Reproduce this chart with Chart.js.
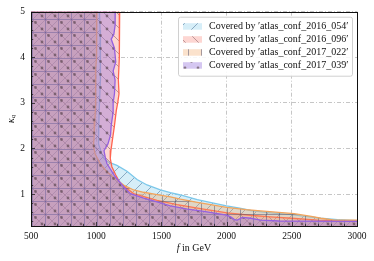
<!DOCTYPE html>
<html>
<head>
<meta charset="utf-8">
<script src="https://cdn.jsdelivr.net/npm/chart.js@4.4.1/dist/chart.umd.min.js"></script>
<style>
  html, body { margin: 0; padding: 0; background: #fff; }
</style>
</head>
<body>
<canvas id="coverChart" width="374" height="261"></canvas>
<script>
// axis ticks
var fTicks = [500, 1000, 1500, 2000, 2500, 3000];
var kTicks = [1, 2, 3, 4, 5];
var fMinorStep = 100;
var kMinorStep = 0.2;

// series labels
var seriesNames = [
  "Covered by \u2032atlas_conf_2016_054\u2032",
  "Covered by \u2032atlas_conf_2016_096\u2032",
  "Covered by \u2032atlas_conf_2017_022\u2032",
  "Covered by \u2032atlas_conf_2017_039\u2032"
];

// boundary of each excluded region (f in GeV, kappa_q)
var f054 = [500, 1025, 1030, 1035, 1030, 1025, 1020, 1018, 1040, 1060, 1095, 1159, 1236, 1313, 1390, 1492, 1569, 1646, 1775, 1900, 2000, 2100, 2185, 2300, 2500, 2723, 2850, 3000];
var k054 = [5, 5, 4.6, 4.0, 3.5, 3.0, 2.5, 2.1, 1.9, 1.78, 1.70, 1.63, 1.50, 1.32, 1.20, 1.09, 1.03, 0.98, 0.88, 0.80, 0.74, 0.69, 0.64, 0.60, 0.55, 0.47, 0.44, 0.42];

var f096 = [500, 1180, 1175, 1180, 1170, 1175, 1165, 1154, 1140, 1125, 1113, 1108, 1120, 1150, 1185, 1287, 1467, 1621, 1800, 2005, 2200, 2338, 2500, 2700, 3000];
var k096 = [5, 5, 4.5, 4.0, 3.5, 3.2, 3.0, 2.83, 2.5, 2.2, 1.96, 1.78, 1.6, 1.42, 1.23, 1.01, 0.86, 0.77, 0.68, 0.59, 0.53, 0.50, 0.47, 0.43, 0.40];

var f022 = [500, 1005, 1003, 995, 998, 995, 990, 985, 979, 992, 1031, 1082, 1146, 1210, 1287, 1364, 1467, 1569, 1646, 1775, 1900, 2000, 2150, 2262, 2400, 2518, 2650, 2723, 2826, 3000];
var k022 = [5, 5, 4.0, 3.7, 3.3, 3.0, 2.6, 2.3, 2.05, 1.88, 1.67, 1.49, 1.34, 1.2, 1.09, 1.04, 0.99, 0.94, 0.89, 0.82, 0.76, 0.71, 0.66, 0.63, 0.60, 0.57, 0.51, 0.47, 0.43, 0.43];

var f039 = [500, 1146, 1145, 1135, 1115, 1140, 1150, 1130, 1145, 1140, 1130, 1130, 1115, 1110, 1090, 1060, 1070, 1082, 1146, 1210, 1262, 1364, 1467, 1569, 1700, 1826, 2000, 2031, 2060, 2082, 2121, 2185, 2262, 2400, 3000];
var k039 = [5, 5, 4.7, 4.5, 4.4, 4.2, 3.9, 3.7, 3.5, 3.2, 3.0, 2.8, 2.5, 2.3, 2.1, 1.95, 1.8, 1.67, 1.38, 1.16, 1.01, 0.91, 0.83, 0.74, 0.67, 0.62, 0.54, 0.50, 0.44, 0.43, 0.49, 0.47, 0.43, 0.41, 0.40];

function pts(fs, ks) {
  return fs.map(function (f, i) { return { x: f, y: ks[i] }; });
}

// matplotlib-like hatched fill
function hatch(fill, ink, kind) {
  var s = 13;
  var c = document.createElement('canvas');
  c.width = s; c.height = s;
  var g = c.getContext('2d');
  g.fillStyle = fill;
  g.fillRect(0, 0, s, s);
  g.strokeStyle = ink;
  g.fillStyle = ink;
  g.lineWidth = 1;
  g.beginPath();
  if (kind === '/') {
    g.moveTo(-1, s + 1); g.lineTo(s + 1, -1);
    g.stroke();
  } else if (kind === '\\') {
    g.moveTo(-1, -1); g.lineTo(s + 1, s + 1);
    g.stroke();
  } else if (kind === '+') {
    g.moveTo(6.5, 0); g.lineTo(6.5, s);
    g.moveTo(0, 6.5); g.lineTo(s, 6.5);
    g.stroke();
  } else {
    g.arc(3, 3, 1.4, 0, Math.PI * 2);
    g.moveTo(11, 9.5);
    g.arc(9.5, 9.5, 1.4, 0, Math.PI * 2);
    g.fill();
  }
  return g.createPattern(c, 'repeat');
}

var fills = [
  hatch('rgba(135,206,235,0.34)', 'rgba(60,100,140,0.5)', '/'),
  hatch('rgba(250,128,114,0.32)', 'rgba(110,70,80,0.45)', '\\'),
  hatch('rgba(244,164,96,0.32)', 'rgba(80,80,110,0.5)', '+'),
  hatch('rgba(150,115,220,0.4)', 'rgba(90,70,80,0.65)', '.')
];
var edges = ['#7cc8ea', '#ff6450', '#f2a45c', '#9560e0'];

var gridColor = 'rgba(175,175,175,0.9)';

var frameAndTicks = {
  id: 'frameAndTicks',
  afterDatasetsDraw: function (chart) {
    var g = chart.ctx, a = chart.chartArea;
    var xs = chart.scales.x, ys = chart.scales.y;
    g.save();
    g.strokeStyle = '#222';
    g.lineWidth = 0.8;
    g.beginPath();
    for (var f = xs.min; f <= xs.max + 0.01; f += fMinorStep) {
      var px = Math.round(xs.getPixelForValue(f)) + 0.5;
      var len = Math.abs(f % 500) < 0.01 ? 4 : 2.2;
      g.moveTo(px, a.bottom);
      g.lineTo(px, a.bottom - len);
    }
    for (var i = 2; i <= 25; i++) {
      var k = i * kMinorStep;
      var py = Math.round(ys.getPixelForValue(k)) + 0.5;
      var l2 = i % 5 === 0 ? 4 : 2.2;
      g.moveTo(a.left, py);
      g.lineTo(a.left + l2, py);
    }
    g.stroke();
    g.strokeStyle = '#111';
    g.lineWidth = 1;
    g.strokeRect(Math.round(a.left) + 0.5, Math.round(a.top) + 0.5, Math.round(a.width), Math.round(a.height));
    g.restore();
  }
};

var titlesAndLegend = {
  id: 'titlesAndLegend',
  afterDraw: function (chart) {
    var g = chart.ctx, a = chart.chartArea;
    g.save();
    g.fillStyle = '#111';
    g.textBaseline = 'middle';
    g.textAlign = 'left';

    // x title
    var cx = (a.left + a.right) / 2, ty = a.bottom + 22;
    g.font = 'italic 10px "Liberation Serif"';
    var fw = g.measureText('f').width;
    g.font = '10px "Liberation Serif"';
    var rw = g.measureText(' in GeV').width;
    var x0 = cx - (fw + rw) / 2;
    g.font = 'italic 10px "Liberation Serif"';
    g.fillText('f', x0, ty);
    g.font = '10px "Liberation Serif"';
    g.fillText(' in GeV', x0 + fw, ty);

    // y title
    g.save();
    g.translate(a.left - 20, (a.top + a.bottom) / 2);
    g.rotate(-Math.PI / 2);
    g.font = 'italic 10px "Liberation Serif"';
    var kw = g.measureText('\u03ba').width;
    g.font = 'italic 7px "Liberation Serif"';
    var qw = g.measureText('q').width;
    g.font = 'italic 10px "Liberation Serif"';
    g.fillText('\u03ba', -(kw + qw) / 2, 0);
    g.font = 'italic 7px "Liberation Serif"';
    g.fillText('q', -(kw + qw) / 2 + kw, 2.5);
    g.restore();

    // legend
    var bx = a.right - 179, by = a.top + 5, bw = 174, bh = 59;
    g.beginPath();
    g.roundRect(bx + 0.5, by + 0.5, bw, bh, 2);
    g.fillStyle = 'rgba(255,255,255,0.85)';
    g.fill();
    g.strokeStyle = '#d0d0d0';
    g.lineWidth = 1;
    g.stroke();
    g.font = '10px "Liberation Serif"';
    chart.data.datasets.forEach(function (ds, i) {
      var cy = by + 9.5 + i * 13;
      g.fillStyle = ds.backgroundColor;
      g.fillRect(bx + 5, cy - 3, 19, 6.5);
      g.fillStyle = '#111';
      g.fillText(ds.label, bx + 31, cy + 0.5);
    });
    g.restore();
  }
};

Chart.defaults.font.family = 'Liberation Serif';

var ctx = document.getElementById('coverChart').getContext('2d');
var coverChart = new Chart(ctx, {
  type: 'line',
  data: {
    datasets: [{
      label: seriesNames[0],
      data: pts(f054, k054),
      backgroundColor: fills[0],
      borderColor: edges[0],
      fill: 'start',
      order: 4
    }, {
      label: seriesNames[1],
      data: pts(f096, k096),
      backgroundColor: fills[1],
      borderColor: edges[1],
      fill: 'start',
      order: 3
    }, {
      label: seriesNames[2],
      data: pts(f022, k022),
      backgroundColor: fills[2],
      borderColor: edges[2],
      fill: 'start',
      order: 2
    }, {
      label: seriesNames[3],
      data: pts(f039, k039),
      backgroundColor: fills[3],
      borderColor: edges[3],
      fill: 'start',
      order: 1
    }]
  },
  options: {
    responsive: false,
    animation: false,
    layout: { padding: { left: 0, right: 17, top: 10, bottom: 0 } },
    elements: {
      point: { radius: 0, hoverRadius: 0 },
      line: { borderWidth: 1.3, tension: 0 }
    },
    plugins: {
      legend: { display: false },
      tooltip: { enabled: false }
    },
    scales: {
      x: {
        type: 'linear',
        min: 500,
        max: 3000,
        afterBuildTicks: function (s) { s.ticks = fTicks.map(function (v) { return { value: v }; }); },
        afterFit: function (s) { s.height = 35; },
        grid: { color: gridColor, lineWidth: 0.8, drawTicks: false },
        border: { display: false, dash: [4, 2, 1, 2] },
        ticks: {
          padding: 5, color: '#111', autoSkip: false, maxRotation: 0,
          font: { size: 9.5 },
          callback: function (v) { return String(v); }
        }
      },
      y: {
        type: 'linear',
        min: 0.3,
        max: 5,
        afterBuildTicks: function (s) { s.ticks = kTicks.map(function (v) { return { value: v }; }); },
        afterFit: function (s) { s.width = 31; },
        grid: { color: gridColor, lineWidth: 0.8, drawTicks: false },
        border: { display: false, dash: [4, 2, 1, 2] },
        ticks: {
          padding: 6, color: '#111', autoSkip: false,
          font: { size: 9.5 },
          callback: function (v) { return String(v); }
        }
      }
    }
  },
  plugins: [frameAndTicks, titlesAndLegend]
});
</script>
</body>
</html>
